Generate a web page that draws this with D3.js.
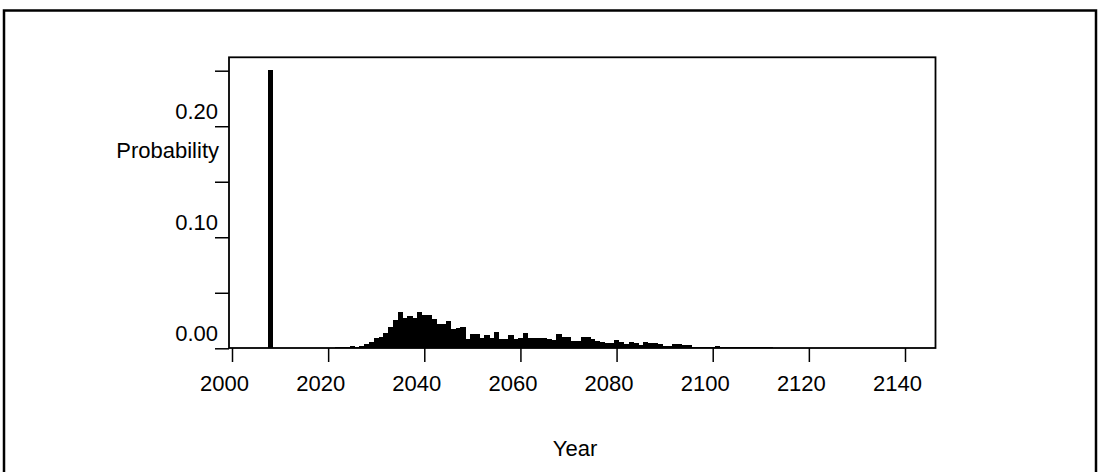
<!DOCTYPE html>
<meta charset="utf-8">
<style>
	body {
		margin: 0;
		background: #ffffff;
	}

	svg text {
		font-family: "Liberation Sans", Arial, sans-serif;
		font-size: 22px;
		fill: #000000;
	}
</style>
<svg width="1099" height="472"></svg>
<script src="https://d3js.org/d3.v7.min.js"></script>
<script>
	// big spike in the first year
	var spikeYear = [2008]
	var spikeProb = [0.251]

	// the spread out part, one value per year from 2021
	var years = d3.range(2021, 2116)
	var probs = [
		0.0003, 0.0008, 0.0008, 0.0009, 0.0018, 0.0012, 0.0025, 0.0042, 0.0060, 0.0092,
		0.0099, 0.0138, 0.0195, 0.0255, 0.0325, 0.0270, 0.0290, 0.0270, 0.0325, 0.0300,
		0.0300, 0.0268, 0.0216, 0.0216, 0.0245, 0.0175, 0.0180, 0.0188, 0.0088, 0.0133,
		0.0133, 0.0090, 0.0120, 0.0090, 0.0150, 0.0080, 0.0080, 0.0120, 0.0080, 0.0096,
		0.0135, 0.0090, 0.0090, 0.0090, 0.0090, 0.0080, 0.0075, 0.0126, 0.0105, 0.0105,
		0.0069, 0.0066, 0.0099, 0.0099, 0.0081, 0.0069, 0.0060, 0.0051, 0.0051, 0.0072,
		0.0054, 0.0042, 0.0060, 0.0048, 0.0030, 0.0060, 0.0045, 0.0045, 0.0038, 0.0020,
		0.0020, 0.0042, 0.0042, 0.0030, 0.0030, 0.0010, 0.0010, 0.0010, 0.0010, 0.0015,
		0.0020, 0.0015, 0.0012, 0.0012, 0.0008, 0.0008, 0.0008, 0.0015, 0.0015, 0.0015,
		0.0015, 0.0010, 0.0005, 0.0005, 0.0003
	]

	var xTicks = [2000, 2020, 2040, 2060, 2080, 2100, 2120, 2140]
	var yTicks = [0, 0.05, 0.10, 0.15, 0.20, 0.25]
	var yLabels = [0, 0.10, 0.20]

	var data = spikeYear.map((d, i) => ({ year: d, value: spikeProb[i] }))
		.concat(years.map((d, i) => ({ year: d, value: probs[i] })))

	var svg = d3.select('svg')

	var x = d3.scaleLinear().domain([2000, 2140]).range([232, 905]),
		y = d3.scaleLinear().domain([0, 0.25]).range([348.3, 70.7])

	// outer frame
	svg.append('rect')
		.attr('x', 4)
		.attr('y', 10.5)
		.attr('width', 1092)
		.attr('height', 520)
		.attr('fill', 'none')
		.attr('stroke', '#000')
		.attr('stroke-width', 2.5)

	// bars
	svg.append('g')
		.attr('shape-rendering', 'crispEdges')
		.selectAll('rect')
		.data(data)
		.enter()
		.append('rect')
		.attr('x', d => x(d.year - 0.5))
		.attr('width', d => x(d.year + 0.5) - x(d.year - 0.5) + 0.5)
		.attr('y', d => y(d.value))
		.attr('height', d => y(0) - y(d.value))
		.attr('fill', '#000')

	// plot box
	svg.append('rect')
		.attr('x', 229)
		.attr('y', 57.3)
		.attr('width', 935.5 - 229)
		.attr('height', 348 - 57.3)
		.attr('fill', 'none')
		.attr('stroke', '#000')
		.attr('stroke-width', 1.8)

	var xAxis = d3.axisBottom(x).tickValues(xTicks).tickSize(14).tickFormat(d3.format('d')),
		yAxis = d3.axisLeft(y).tickValues(yTicks).tickSize(14)
			.tickFormat(d => yLabels.indexOf(d) >= 0 ? d3.format('.2f')(d) : '')

	var gx = svg.append('g')
		.attr('transform', 'translate(0,348)')
		.call(xAxis)
	gx.select('.domain').remove()
	gx.selectAll('line').attr('stroke', '#000').attr('stroke-width', 1.5)
	gx.selectAll('text')
		.attr('y', 0)
		.attr('dy', 0)
		.attr('transform', 'translate(-8,43)')
		.style('font-size', '22px')

	var gy = svg.append('g')
		.attr('transform', 'translate(229,0)')
		.call(yAxis)
	gy.select('.domain').remove()
	gy.selectAll('line').attr('stroke', '#000').attr('stroke-width', 1.5)
	gy.selectAll('text')
		.attr('x', -11)
		.attr('dy', -7.5)
		.style('font-size', '22px')

	svg.append('text')
		.attr('x', 219)
		.attr('y', 158)
		.attr('text-anchor', 'end')
		.text('Probability')

	svg.append('text')
		.attr('x', 575)
		.attr('y', 456)
		.attr('text-anchor', 'middle')
		.text('Year')
</script>
